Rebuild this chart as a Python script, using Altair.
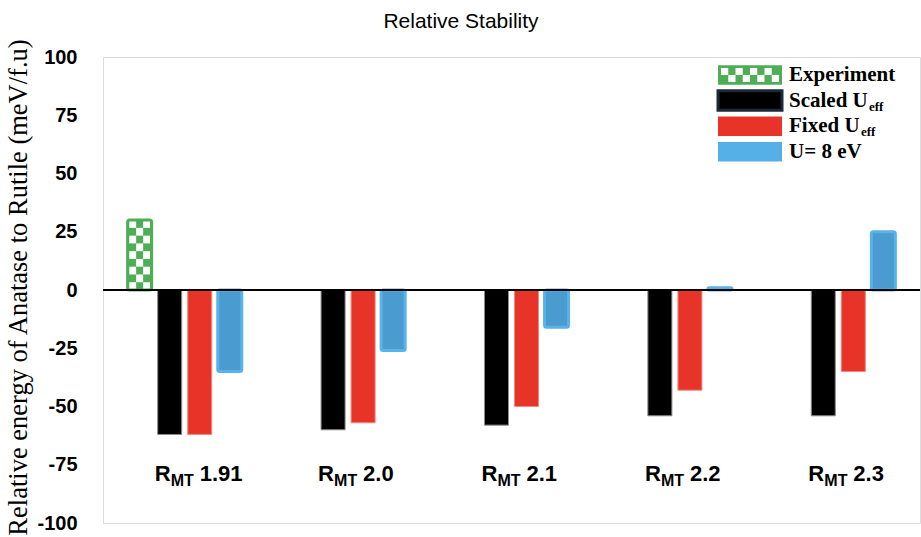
import altair as alt
import pandas as pd

# Relative energy of anatase vs rutile (meV per formula unit) for each muffin-tin radius
rmt = ["1.91", "2.0", "2.1", "2.2", "2.3"]
series = ["Experiment", "Scaled Ueff", "Fixed Ueff", "U= 8 eV"]
experiment = [30, None, None, None, None]
scaled_ueff = [-62, -60, -58, -54, -54]
fixed_ueff = [-62, -57, -50, -43, -35]
u_8ev = [-35, -26, -16, 1, 25]

# legend texts (main part + subscript)
legend_main = ["Experiment", "Scaled U", "Fixed U", "U= 8 eV"]
legend_sub = ["", "eff", "eff", ""]

W, H = 817, 466
Y_TITLE = "Relative energy of Anatase to Rutile (meV/f.u)"
CHART_TITLE = "Relative Stability"

rows = []
for s, vals in zip(series, [experiment, scaled_ueff, fixed_ueff, u_8ev]):
    for g, v in zip(rmt, vals):
        if v is not None:
            rows.append({"group": g, "series": s, "value": v, "base": 0})
bars = pd.DataFrame(rows)

# sub-band geometry of the grouped bars
PAD_IN, PAD_OUT = 0.2, 0.82
group_w = W / len(rmt)
step = group_w / (len(series) - PAD_IN + 2 * PAD_OUT)
bar_w = step * (1 - PAD_IN)


def slot_center(k):
    """Pixel offset of the k-th series bar centre from its group centre."""
    return PAD_OUT * step + k * step + bar_w / 2 - group_w / 2


# checkerboard cells for the experimental bar, spanning its value
CHECK_ROWS, CHECK_COLS, CELL_W = 9, 3, 7
cells = []
for g, v in zip(rmt, experiment):
    if v is None:
        continue
    for i in range(CHECK_ROWS):
        for j in range(CHECK_COLS):
            if (i + j) % 2 == 0:
                cells.append({"group": g, "col": j,
                              "value": v * i / CHECK_ROWS,
                              "base": v * (i + 1) / CHECK_ROWS})
cells = pd.DataFrame(cells)

y_axis = alt.Axis(
    values=list(range(-100, 101, 25)),
    labelExpr="datum.value + ''",
    labelFont="Liberation Sans", labelFontWeight="bold", labelFontSize=20,
    labelColor="black", labelPadding=26,
    ticks=False, domain=False, grid=False,
    titleFont="Liberation Serif", titleFontSize=26.5, titleFontWeight="normal",
    titleColor="black", titleX=-77, titleY=230, titleAngle=-90,
    titleBaseline="alphabetic", titleAlign="center",
)
y_scale = alt.Scale(domain=[-100, 100], nice=False, zero=False)


def ychan(field="value"):
    return alt.Y(f"{field}:Q", scale=y_scale, axis=y_axis, title=Y_TITLE)


x_enc = alt.X("group:N", sort=rmt, axis=None,
              scale=alt.Scale(paddingInner=0, paddingOuter=0))
xo_enc = alt.XOffset("series:N", sort=series,
                     scale=alt.Scale(domain=series, paddingInner=PAD_IN, paddingOuter=PAD_OUT))

base = alt.Chart(bars).encode(x=x_enc, xOffset=xo_enc, y=ychan(), y2=alt.Y2("base:Q"))


def only(name):
    return base.transform_filter(alt.datum.series == name)


GREEN = "#4DAE55"
exp_fill = only("Experiment").mark_bar(color=GREEN)
exp_edge = only("Experiment").mark_bar(fill=None, stroke=GREEN, strokeWidth=3, cornerRadius=2)
scaled_bar = only("Scaled Ueff").mark_bar(color="black", stroke="#8c8c8c", strokeWidth=1)
fixed_bar = only("Fixed Ueff").mark_bar(color="#E83428", stroke="#F08A80", strokeWidth=1)
u8_bar = only("U= 8 eV").mark_bar(color="#4A9BD0", stroke="#58B3EA", strokeWidth=3, cornerRadius=2)

exp_center = slot_center(series.index("Experiment"))
checker = [
    alt.Chart(cells).transform_filter(alt.datum.col == j)
    .mark_bar(color="white", width=CELL_W, xOffset=exp_center + (j - 1) * CELL_W)
    .encode(x=x_enc, y=ychan(), y2=alt.Y2("base:Q"))
    for j in range(CHECK_COLS)
]

zero_line = alt.Chart(bars).mark_rule(color="black", strokeWidth=2).encode(
    y=alt.Y(datum=0, scale=y_scale, axis=y_axis, title=Y_TITLE)
)

# category labels  R_MT x.xx
LABEL_Y = -82
labels = pd.DataFrame({"group": rmt, "num": rmt, "ly": [LABEL_Y] * len(rmt)})
lab_base = alt.Chart(labels).encode(x=x_enc, y=ychan("ly"))
lab_r = lab_base.mark_text(align="left", baseline="alphabetic", dx=-30, font="Liberation Sans",
                           fontWeight="bold", fontSize=22, color="black").encode(text=alt.value("R"))
lab_mt = lab_base.mark_text(align="left", baseline="alphabetic", dx=-14, dy=5, font="Liberation Sans",
                            fontWeight="bold", fontSize=16, color="black").encode(text=alt.value("MT"))
lab_num = lab_base.mark_text(align="left", baseline="alphabetic", dx=15, font="Liberation Sans",
                             fontWeight="bold", fontSize=22, color="black").encode(text="num:N")

# chart title, centred over the whole figure
title_df = pd.DataFrame({"t": [CHART_TITLE]})
title_mark = alt.Chart(title_df).mark_text(
    align="center", baseline="alphabetic", font="Liberation Sans", fontSize=21, color="black"
).encode(x=alt.value(358), y=alt.value(-29), text="t:N")

# legend, placed in the upper-right corner of the plot
LEG_Y0, LEG_STEP, LEG_HALF = 92.3, 11.0, 4.2
SYM_X0, SYM_X1, TXT_X = 615, 679, 686
leg = pd.DataFrame({
    "series": series,
    "main": legend_main,
    "sub": legend_sub,
    "ly": [LEG_Y0 - LEG_STEP * i for i in range(len(series))],
})
leg["top"] = leg["ly"] + LEG_HALF
leg["bot"] = leg["ly"] - LEG_HALF
leg_sym_style = {
    "Experiment": dict(color=GREEN),
    "Scaled Ueff": dict(color="black", stroke="#1c2a38", strokeWidth=3),
    "Fixed Ueff": dict(color="#E83428"),
    "U= 8 eV": dict(color="#55B0E8"),
}
leg_syms = [
    alt.Chart(leg).transform_filter(alt.datum.series == s)
    .mark_rect(**leg_sym_style[s])
    .encode(x=alt.value(SYM_X0), x2=alt.value(SYM_X1), y=ychan("top"), y2=alt.Y2("bot:Q"))
    for s in series
]
# checker pattern inside the experiment symbol
LEG_COLS = 8
cell_px = (SYM_X1 - SYM_X0 - 6) / LEG_COLS
exp_row = leg[leg["series"] == "Experiment"].iloc[0]
mid = exp_row["ly"]
leg_cells = pd.DataFrame([
    {"r": r, "c": c,
     "top": mid + (LEG_HALF - 1.2) * (1 - r),
     "bot": mid - (LEG_HALF - 1.2) * r}
    for r in range(2) for c in range(LEG_COLS) if (r + c) % 2 == 0
])
leg_checker = [
    alt.Chart(leg_cells).transform_filter(alt.datum.c == c)
    .mark_rect(color="white")
    .encode(x=alt.value(SYM_X0 + 3 + c * cell_px), x2=alt.value(SYM_X0 + 3 + (c + 1) * cell_px),
            y=ychan("top"), y2=alt.Y2("bot:Q"))
    for c in range(LEG_COLS)
]
leg_txt = alt.Chart(leg).mark_text(
    align="left", baseline="middle", font="Liberation Serif", fontWeight="bold",
    fontSize=21, color="black"
).encode(x=alt.value(TXT_X), y=ychan("ly"), text="main:N")
sub_dx = {"Scaled Ueff": 80, "Fixed Ueff": 72}
leg_sub = [
    alt.Chart(leg).transform_filter(alt.datum.series == s)
    .mark_text(align="left", baseline="middle", font="Liberation Serif", fontWeight="bold",
               fontSize=13, color="black", dx=dx, dy=6)
    .encode(x=alt.value(TXT_X), y=ychan("ly"), text="sub:N")
    for s, dx in sub_dx.items()
]

chart = alt.layer(
    exp_fill, *checker, exp_edge, scaled_bar, fixed_bar, u8_bar, zero_line,
    lab_r, lab_mt, lab_num, title_mark,
    *leg_syms, *leg_checker, leg_txt, *leg_sub,
).properties(
    width=W, height=H,
    padding={"left": 103, "top": 57, "right": 1, "bottom": 14},
    autosize=alt.AutoSizeParams(type="none"),
).configure_view(
    stroke="black", strokeWidth=2.5
).configure(background="white")

chart.save("out.html", embed_options={"renderer": "svg", "actions": False})
